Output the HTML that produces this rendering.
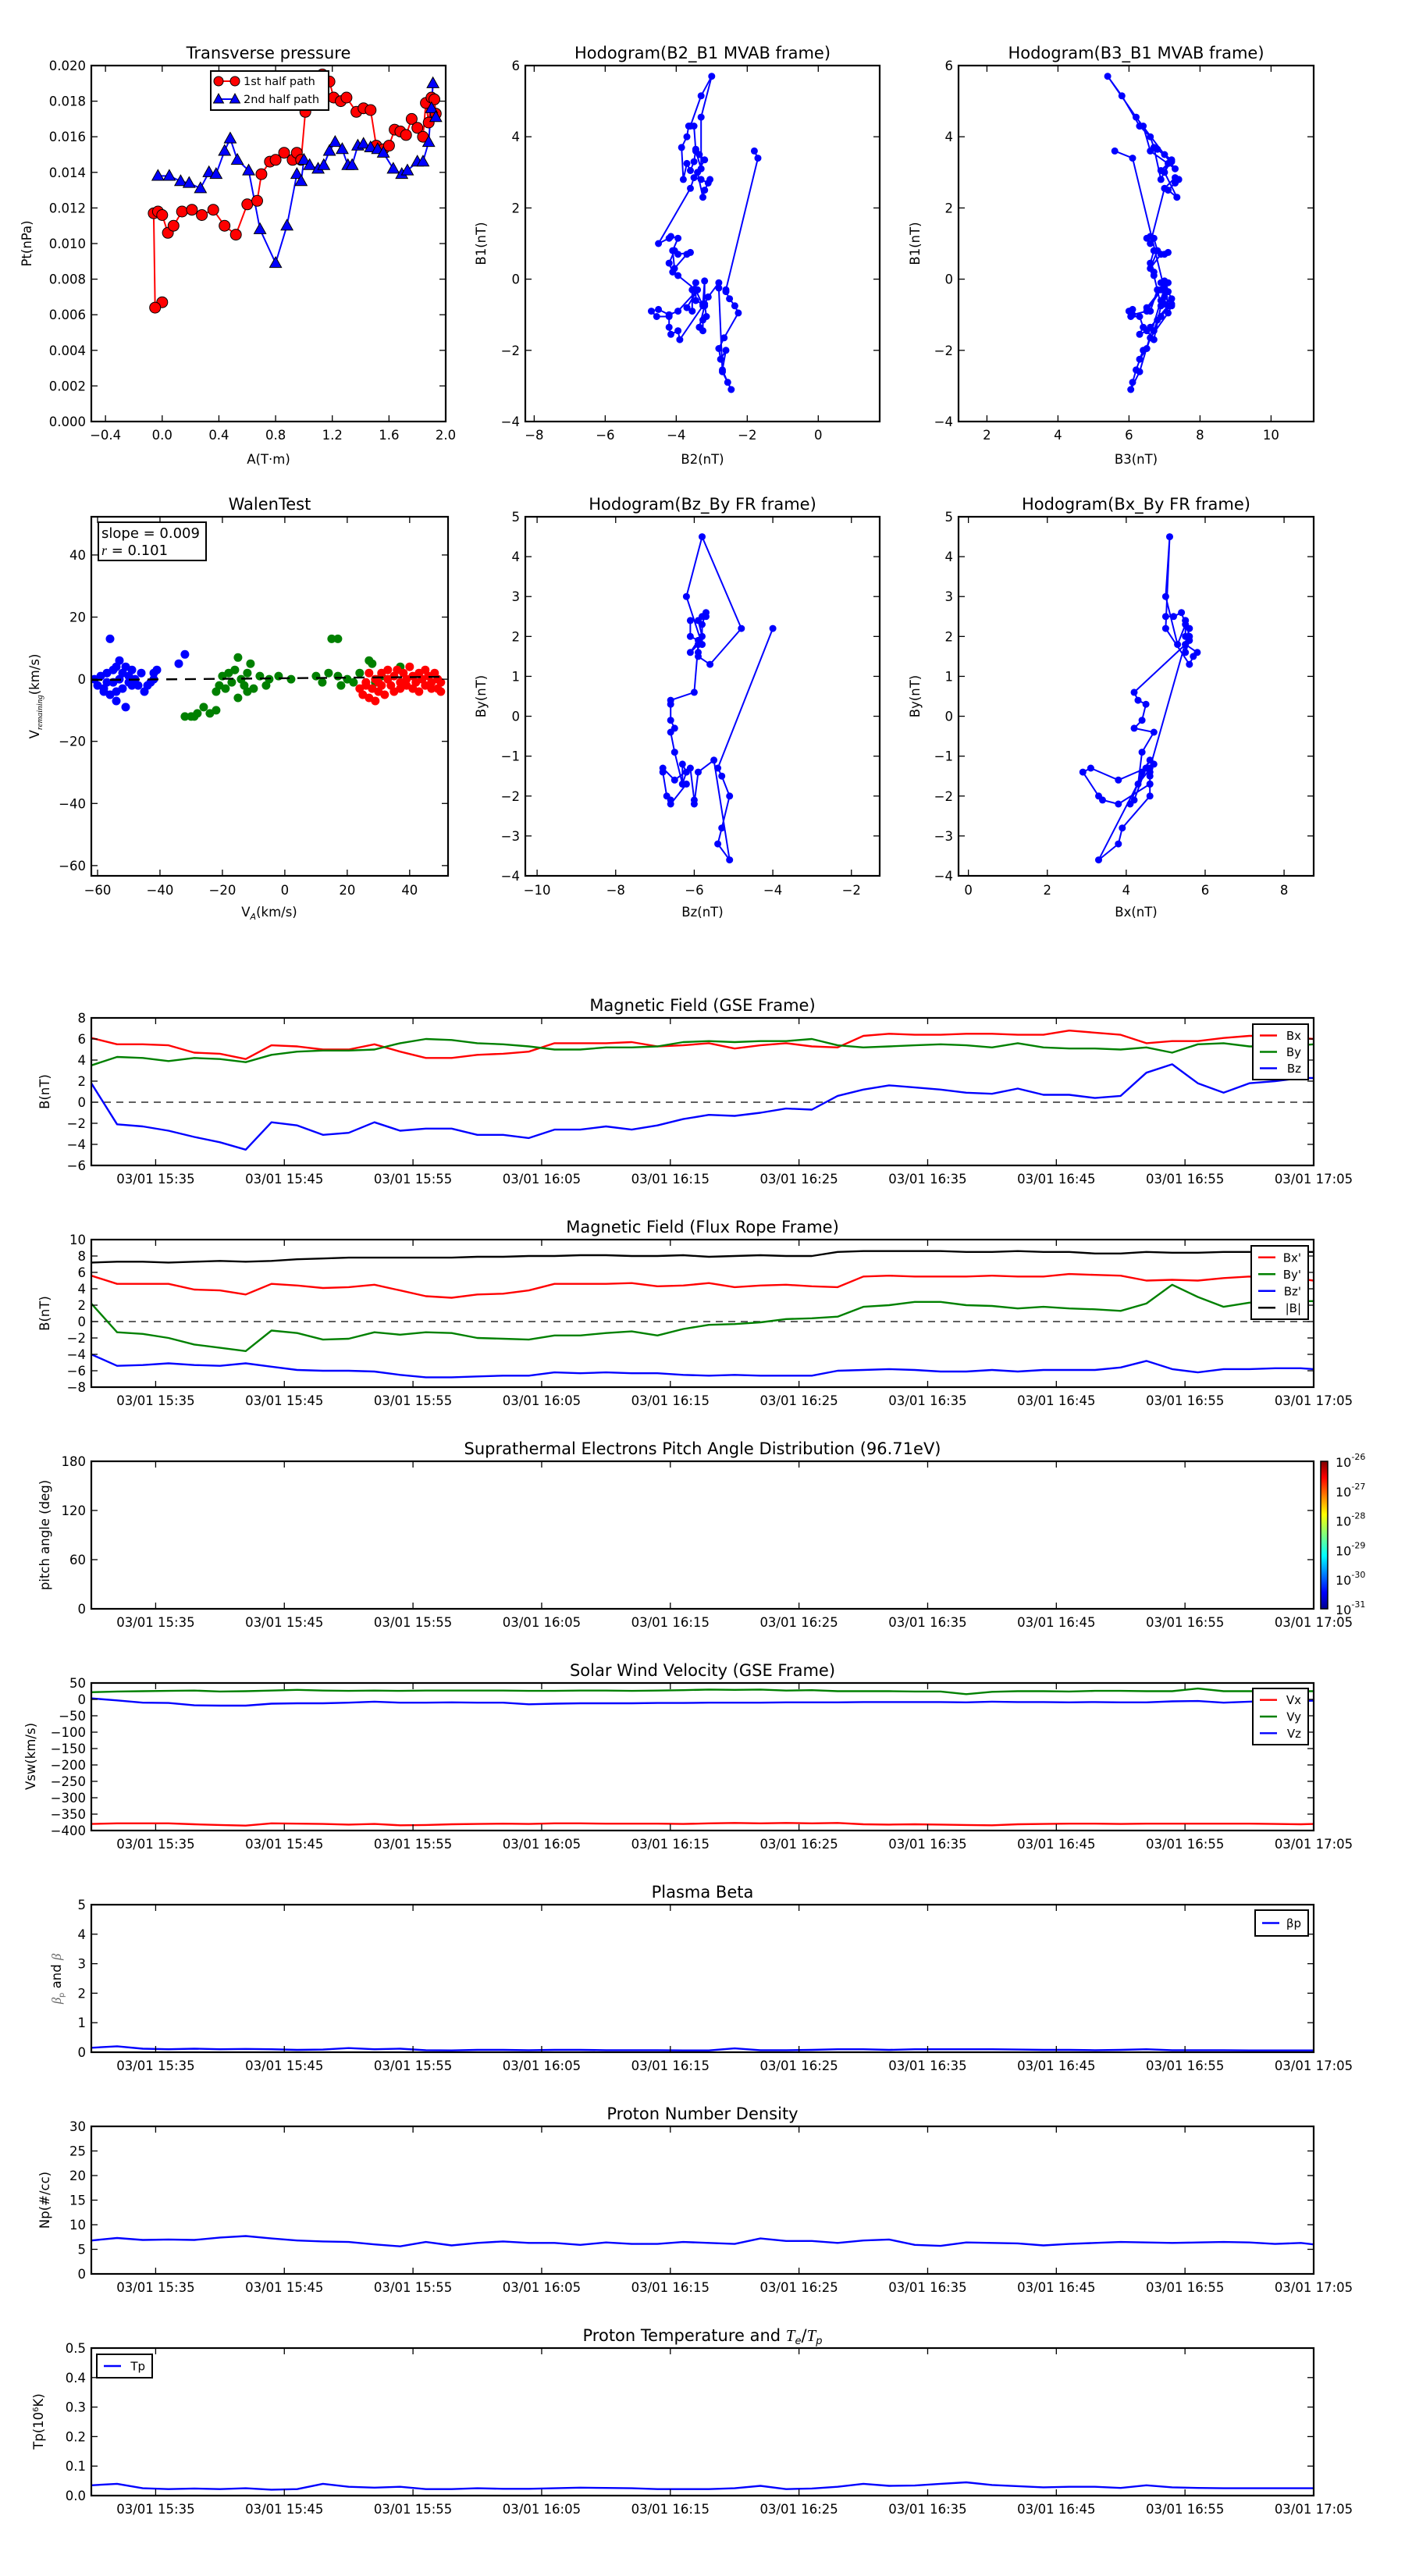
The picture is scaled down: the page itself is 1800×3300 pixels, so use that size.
<!DOCTYPE html>
<html><head><meta charset="utf-8"><title>Flux rope analysis</title>
<style>
html,body{margin:0;padding:0;background:#fff;}
svg{display:block;font-family:"DejaVu Sans","Liberation Sans",sans-serif;}
</style></head>
<body>
<svg id="root" xmlns="http://www.w3.org/2000/svg" width="1800" height="3300" viewBox="0 0 1800 3300">
<rect x="0" y="0" width="1800" height="3300" fill="#fff"/>
</svg>
<script>
// ---------- time-series data (minutes after 03/01 15:30) ----------
const tMin = [0,2,4,6,8,10,12,14,16,18,20,22,24,26,28,30,32,34,36,38,40,42,44,46,48,50,52,54,56,58,60,62,64,66,68,70,72,74,76,78,80,82,84,86,88,90,92,94,95];
const timeTickMin = [5,15,25,35,45,55,65,75,85,95];
const timeTickLabels = ["03/01 15:35","03/01 15:45","03/01 15:55","03/01 16:05","03/01 16:15","03/01 16:25","03/01 16:35","03/01 16:45","03/01 16:55","03/01 17:05"];

const gseBx = [6.1,5.5,5.5,5.4,4.7,4.6,4.1,5.4,5.3,5.0,5.0,5.5,4.8,4.2,4.2,4.5,4.6,4.8,5.6,5.6,5.6,5.7,5.3,5.4,5.6,5.1,5.4,5.6,5.3,5.2,6.3,6.5,6.4,6.4,6.5,6.5,6.4,6.4,6.8,6.6,6.4,5.6,5.8,5.8,6.1,6.3,6.3,6.1,6.0];
const gseBy = [3.5,4.3,4.2,3.9,4.2,4.1,3.8,4.5,4.8,4.9,4.9,5.0,5.6,6.0,5.9,5.6,5.5,5.3,5.0,5.0,5.2,5.2,5.3,5.7,5.8,5.7,5.8,5.8,6.0,5.4,5.2,5.3,5.4,5.5,5.4,5.2,5.6,5.2,5.1,5.1,5.0,5.2,4.7,5.5,5.6,5.3,5.3,5.4,5.5];
const gseBz = [1.8,-2.1,-2.3,-2.7,-3.3,-3.8,-4.5,-1.9,-2.2,-3.1,-2.9,-1.9,-2.7,-2.5,-2.5,-3.1,-3.1,-3.4,-2.6,-2.6,-2.3,-2.6,-2.2,-1.6,-1.2,-1.3,-1.0,-0.6,-0.7,0.6,1.2,1.6,1.4,1.2,0.9,0.8,1.3,0.7,0.7,0.4,0.6,2.8,3.6,1.8,0.9,1.8,2.0,2.3,2.3];

const frBx = [5.6,4.6,4.6,4.6,3.9,3.8,3.3,4.6,4.4,4.1,4.2,4.5,3.8,3.1,2.9,3.3,3.4,3.8,4.6,4.6,4.6,4.7,4.3,4.4,4.7,4.2,4.4,4.5,4.3,4.2,5.5,5.6,5.5,5.5,5.5,5.6,5.5,5.5,5.8,5.7,5.6,5.0,5.1,5.0,5.3,5.5,5.4,5.2,5.0];
const frBy = [2.2,-1.3,-1.5,-2.0,-2.8,-3.2,-3.6,-1.1,-1.4,-2.2,-2.1,-1.3,-1.6,-1.3,-1.4,-2.0,-2.1,-2.2,-1.7,-1.7,-1.4,-1.2,-1.7,-0.9,-0.4,-0.3,-0.1,0.3,0.4,0.6,1.8,2.0,2.4,2.4,2.0,1.9,1.6,1.8,1.6,1.5,1.3,2.2,4.5,3.0,1.8,2.3,2.6,2.5,2.5];
const frBz = [-4.0,-5.4,-5.3,-5.1,-5.3,-5.4,-5.1,-5.5,-5.9,-6.0,-6.0,-6.1,-6.5,-6.8,-6.8,-6.7,-6.6,-6.6,-6.2,-6.3,-6.2,-6.3,-6.3,-6.5,-6.6,-6.5,-6.6,-6.6,-6.6,-6.0,-5.9,-5.8,-5.9,-6.1,-6.1,-5.9,-6.1,-5.9,-5.9,-5.9,-5.6,-4.8,-5.8,-6.2,-5.8,-5.8,-5.7,-5.7,-5.8];
const frBt = [7.2,7.3,7.3,7.2,7.3,7.4,7.3,7.4,7.6,7.7,7.8,7.8,7.8,7.8,7.8,7.9,7.9,8.0,8.0,8.1,8.1,8.0,8.0,8.1,7.9,8.0,8.1,8.0,8.0,8.5,8.6,8.6,8.6,8.6,8.5,8.5,8.6,8.5,8.5,8.3,8.3,8.5,8.4,8.4,8.5,8.5,8.6,8.5,8.5];

const swVx = [-380,-378,-378,-378,-381,-383,-385,-378,-379,-380,-382,-380,-384,-383,-381,-380,-379,-380,-378,-378,-379,-379,-379,-380,-378,-377,-378,-377,-378,-377,-381,-382,-381,-382,-383,-384,-381,-380,-379,-379,-380,-379,-379,-379,-379,-379,-380,-381,-380];
const swVy = [22,24,25,26,27,24,25,27,29,27,26,27,26,27,27,27,27,26,26,27,27,26,27,28,30,29,30,27,28,25,25,25,24,24,16,23,25,25,24,26,26,25,25,33,25,25,25,25,25];
const swVz = [3,-3,-10,-11,-18,-19,-19,-13,-12,-12,-10,-7,-10,-10,-9,-10,-10,-15,-13,-12,-12,-12,-11,-11,-10,-10,-10,-9,-9,-9,-8,-8,-8,-8,-9,-7,-8,-8,-9,-8,-9,-9,-6,-5,-10,-7,-4,-5,-4];
const betaP = [0.15,0.2,0.12,0.1,0.12,0.1,0.11,0.1,0.08,0.09,0.14,0.1,0.12,0.07,0.06,0.08,0.08,0.07,0.08,0.08,0.07,0.07,0.07,0.06,0.06,0.13,0.07,0.07,0.08,0.1,0.1,0.08,0.1,0.1,0.1,0.1,0.09,0.08,0.08,0.07,0.08,0.1,0.07,0.07,0.07,0.06,0.06,0.06,0.06];
const densNp = [6.8,7.3,6.9,7.0,6.9,7.4,7.7,7.2,6.8,6.6,6.5,6.0,5.6,6.5,5.8,6.3,6.6,6.3,6.3,5.9,6.4,6.1,6.1,6.5,6.3,6.1,7.2,6.7,6.7,6.3,6.8,7.0,5.9,5.7,6.4,6.3,6.2,5.8,6.1,6.3,6.5,6.4,6.3,6.4,6.5,6.4,6.1,6.3,6.0];
const tempTp = [0.035,0.04,0.025,0.022,0.024,0.022,0.025,0.02,0.022,0.04,0.03,0.027,0.03,0.022,0.022,0.025,0.023,0.023,0.025,0.027,0.026,0.025,0.022,0.022,0.022,0.025,0.033,0.022,0.024,0.03,0.04,0.033,0.034,0.04,0.045,0.036,0.032,0.028,0.03,0.03,0.026,0.035,0.028,0.026,0.025,0.025,0.025,0.025,0.025];

// ---------- transverse pressure ----------
const ptA1 = [0.0,-0.05,-0.06,-0.03,0.0,0.04,0.08,0.14,0.21,0.28,0.36,0.44,0.52,0.6,0.67,0.7,0.76,0.8,0.86,0.92,0.95,0.98,1.01,1.1,1.13,1.18,1.21,1.26,1.3,1.37,1.42,1.47,1.51,1.56,1.6,1.64,1.68,1.72,1.76,1.8,1.84,1.86,1.88,1.9,1.92,1.93];
const ptP1 = [0.0067,0.0064,0.0117,0.0118,0.0116,0.0106,0.0110,0.0118,0.0119,0.0116,0.0119,0.0110,0.0105,0.0122,0.0124,0.0139,0.0146,0.0147,0.0151,0.0147,0.0151,0.0147,0.0174,0.0193,0.0195,0.0191,0.0182,0.0180,0.0182,0.0174,0.0176,0.0175,0.0155,0.0153,0.0155,0.0164,0.0163,0.0161,0.0170,0.0165,0.0160,0.0179,0.0168,0.0182,0.0181,0.0173];
const ptA2 = [-0.03,0.05,0.13,0.19,0.27,0.33,0.38,0.44,0.48,0.53,0.61,0.69,0.8,0.88,0.95,0.98,1.0,1.04,1.1,1.14,1.18,1.22,1.27,1.31,1.34,1.38,1.42,1.47,1.52,1.56,1.63,1.69,1.73,1.8,1.84,1.88,1.91,1.9,1.93];
const ptP2 = [0.0138,0.0138,0.0135,0.0134,0.0131,0.0140,0.0139,0.0152,0.0159,0.0147,0.0141,0.0108,0.0089,0.0110,0.0139,0.0135,0.0147,0.0144,0.0142,0.0144,0.0152,0.0157,0.0153,0.0144,0.0144,0.0155,0.0156,0.0154,0.0153,0.0151,0.0142,0.0139,0.0141,0.0146,0.0146,0.0157,0.0190,0.0176,0.0171];

// ---------- MVAB hodogram ----------
const mvB1 = [3.6,3.4,-0.3,-0.35,-0.55,-0.75,-0.95,-1.65,-1.95,-2.25,-2.0,-2.55,-2.9,-3.1,-2.6,-0.25,-0.1,-0.5,-0.7,-1.05,-1.15,-1.45,-1.35,-0.75,-0.05,-0.7,-0.6,-0.1,-0.3,-0.9,-0.8,-0.3,-0.9,-1.0,-0.85,-0.9,-1.05,-1.05,-1.35,-1.55,-1.45,-1.7,-0.75,-0.3,0.1,0.2,0.45,0.8,0.7,0.75,0.7,0.3,0.8,1.15,1.2,1.15,1.0,2.55,2.85,2.8,2.7,2.8,2.5,2.3,3.0,3.35,3.5,3.65,3.3,3.05,3.25,2.8,3.7,4.0,4.3,4.3,3.6,3.1,4.55,5.7,5.15,4.3];
const mvB2 = [-1.8,-1.7,-2.6,-2.6,-2.5,-2.35,-2.25,-2.65,-2.8,-2.75,-2.6,-2.7,-2.55,-2.45,-2.7,-2.8,-2.8,-3.1,-3.2,-3.15,-3.25,-3.25,-3.35,-3.2,-3.2,-3.25,-3.45,-3.45,-3.55,-3.55,-3.7,-3.4,-3.95,-4.2,-4.5,-4.7,-4.55,-4.2,-4.2,-4.15,-3.95,-3.9,-3.25,-3.45,-3.95,-4.1,-4.2,-4.05,-3.95,-3.6,-3.7,-4.05,-4.1,-3.95,-4.15,-4.2,-4.5,-3.6,-3.5,-3.3,-3.1,-3.05,-3.2,-3.25,-3.4,-3.2,-3.35,-3.45,-3.5,-3.6,-3.7,-3.8,-3.85,-3.7,-3.65,-3.5,-3.45,-3.3,-3.3,-3.0,-3.3,-3.6];
const mvB3 = [5.6,6.1,7.0,7.1,7.2,7.2,7.1,6.6,6.5,6.3,6.4,6.2,6.1,6.05,6.3,7.0,6.9,7.0,7.2,6.9,6.8,6.7,6.6,7.1,7.0,7.0,6.9,7.1,6.8,6.6,6.5,6.9,6.5,6.1,6.1,6.0,6.05,6.3,6.4,6.3,6.5,6.7,6.9,6.8,6.7,6.7,6.6,6.7,7.0,7.1,6.9,6.6,6.8,6.7,6.6,6.5,6.6,7.0,7.3,7.4,7.3,7.4,7.1,7.35,7.0,7.2,7.0,6.8,7.2,6.9,7.1,6.9,6.7,6.6,6.3,6.4,6.6,7.3,6.2,5.4,5.8,6.3];

// ---------- Walen test ----------
const walenBlueX = [-61,-60,-59,-58,-57,-56,-56,-55,-55,-54,-54,-53,-53,-52,-52,-51,-51,-50,-50,-49,-48,-47,-46,-45,-44,-43,-42,-42,-34,-32,-58,-57,-54,-49,-41];
const walenBlueY = [0,-2,1,-3,2,-5,13,3,-1,4,-7,0,6,2,-3,-9,4,1,-1,3,0,-2,2,-4,-2,-1,0,2,5,8,-4,-1,-4,-2,3];
const walenGreenX = [-32,-30,-28,-26,-24,-22,-22,-21,-20,-19,-18,-17,-16,-15,-15,-14,-13,-12,-12,-11,-10,-8,-6,-5,-2,2,10,12,14,15,17,17,18,20,22,24,27,28,29,31,37,-29];
const walenGreenY = [-12,-12,-11,-9,-11,-10,-4,-2,1,-3,2,-1,3,-6,7,0,-2,2,-4,5,-3,1,-2,0,1,0,1,-1,2,13,13,1,-2,0,-1,2,6,5,-1,1,4,-12];
const walenRedX = [24,25,26,27,27,28,29,29,30,31,31,32,33,33,34,35,35,36,37,37,38,39,39,40,41,41,42,43,43,44,45,45,46,47,47,48,49,49,50,50,26,30];
const walenRedY = [-3,-5,-1,-6,2,-3,0,-7,-4,2,-2,-5,3,0,-2,1,-4,3,-1,-3,2,0,-2,4,1,-3,-1,2,-4,0,-2,3,1,-1,-3,2,0,-3,-1,-4,-2,-1];
const walenSlope = 0.009, walenIntercept = 0.3;

const SVGNS = "http://www.w3.org/2000/svg";
const root = document.getElementById('root');
function mk(tag, parent){ const e = document.createElementNS(SVGNS, tag); (parent||root).appendChild(e); return e; }
function txt(parent, x, y, s, size, anchor, extra){
  const t = mk('text', parent); t.setAttribute('x', x); t.setAttribute('y', y);
  t.setAttribute('font-size', size); t.setAttribute('text-anchor', anchor||'middle'); t.setAttribute('fill', '#000');
  if (extra) t.setAttribute('font-style', extra);
  t.textContent = s; return t;
}
function fmtNum(v){ return String(v).replace('-', '\u2212'); }

function makeAxes(cfg){
  const g = mk('g'); 
  
  const sx = v => cfg.x0 + (v - cfg.xmin) / (cfg.xmax - cfg.xmin) * (cfg.x1 - cfg.x0);
  const sy = v => cfg.y1 - (v - cfg.ymin) / (cfg.ymax - cfg.ymin) * (cfg.y1 - cfg.y0);
  const clip = mk('clipPath', g); clip.setAttribute('id', cfg.name + '-clip');
  const cr = mk('rect', clip); cr.setAttribute('x', cfg.x0); cr.setAttribute('y', cfg.y0);
  cr.setAttribute('width', cfg.x1 - cfg.x0); cr.setAttribute('height', cfg.y1 - cfg.y0);
  const plot = mk('g', g); plot.setAttribute('clip-path', 'url(#' + cfg.name + '-clip)');
  
  
  const ticks = mk('g', g);
  
  
  const fs = cfg.fs || 16.5;
  cfg.xticks.forEach((v, i) => {
    const x = sx(v);
    [[cfg.y1, cfg.y1 - 8], [cfg.y0, cfg.y0 + 8]].forEach(p => { const l = mk('line', ticks); l.setAttribute('x1', x); l.setAttribute('x2', x); l.setAttribute('y1', p[0]); l.setAttribute('y2', p[1]); l.setAttribute('stroke', '#000'); l.setAttribute('stroke-width', 1.3); });
    const t = txt(ticks, x, cfg.y1 + (cfg.xlabOff || 23), cfg.xlabels ? cfg.xlabels[i] : fmtNum(v), fs);
    
    
  });
  cfg.yticks.forEach((v, i) => {
    const y = sy(v);
    [[cfg.x0, cfg.x0 + 8], [cfg.x1, cfg.x1 - 8]].forEach(p => { const l = mk('line', ticks); l.setAttribute('y1', y); l.setAttribute('y2', y); l.setAttribute('x1', p[0]); l.setAttribute('x2', p[1]); l.setAttribute('stroke', '#000'); l.setAttribute('stroke-width', 1.3); });
    const t = txt(ticks, cfg.x0 - 7, y + 6, cfg.ylabels ? cfg.ylabels[i] : fmtNum(v), fs, 'end');
    
    
  });
  if (cfg.title) { const t = txt(g, (cfg.x0 + cfg.x1) / 2, cfg.y0 - 9, cfg.title, 21);
    
     }
  if (cfg.ylab) { const t = txt(g, 0, 0, cfg.ylab, 16.5); t.setAttribute('transform', 'translate(' + cfg.ylabX + ',' + ((cfg.y0 + cfg.y1) / 2) + ') rotate(-90)');
    
     cfg.ylabEl = t; }
  if (cfg.xlab) { const t = txt(g, (cfg.x0 + cfg.x1) / 2, cfg.xlabY, cfg.xlab, 16.5);
    
     cfg.xlabEl = t; }
  const fr = mk('rect', g); fr.setAttribute('x', cfg.x0); fr.setAttribute('y', cfg.y0);
  fr.setAttribute('width', cfg.x1 - cfg.x0); fr.setAttribute('height', cfg.y1 - cfg.y0);
  fr.setAttribute('fill', 'none'); fr.setAttribute('stroke', '#000'); fr.setAttribute('stroke-width', 2.2);
  
  
  return { g, plot, sx, sy, cfg };
}
function polyline(ax, xs, ys, color, w, name){
  const n = Math.min(xs.length, ys.length); let d = '';
  for (let i = 0; i < n; i++) d += (i ? 'L' : 'M') + ax.sx(xs[i]).toFixed(1) + ' ' + ax.sy(ys[i]).toFixed(1);
  const p = mk('path', ax.plot); p.setAttribute('d', d); p.setAttribute('fill', 'none');
  p.setAttribute('stroke', color); p.setAttribute('stroke-width', w || 2.4); p.setAttribute('stroke-linejoin', 'round');
  
  
  return p;
}
function dots(ax, xs, ys, color, r, name, stroke){
  const n = Math.min(xs.length, ys.length);
  const gg = mk('g', ax.plot);
  
  
  for (let i = 0; i < n; i++) { const c = mk('circle', gg); c.setAttribute('cx', ax.sx(xs[i]).toFixed(1)); c.setAttribute('cy', ax.sy(ys[i]).toFixed(1)); c.setAttribute('r', r); c.setAttribute('fill', color); if (stroke) { c.setAttribute('stroke', '#000'); c.setAttribute('stroke-width', 1); }
    
     }
}
function tris(ax, xs, ys, color, s, name){
  const n = Math.min(xs.length, ys.length);
  const gg = mk('g', ax.plot);
  
  
  for (let i = 0; i < n; i++) { const x = ax.sx(xs[i]), y = ax.sy(ys[i]); const p = mk('polygon', gg);
    p.setAttribute('points', x + ',' + (y - s) + ' ' + (x - s * 0.95) + ',' + (y + s * 0.7) + ' ' + (x + s * 0.95) + ',' + (y + s * 0.7));
    p.setAttribute('fill', color); p.setAttribute('stroke', '#000'); p.setAttribute('stroke-width', 1);
    
     }
}
function hline(ax, v, name){
  const l = mk('line', ax.plot); l.setAttribute('x1', ax.cfg.x0); l.setAttribute('x2', ax.cfg.x1);
  l.setAttribute('y1', ax.sy(v)); l.setAttribute('y2', ax.sy(v)); l.setAttribute('stroke', '#000'); l.setAttribute('stroke-width', 1.2); l.setAttribute('stroke-dasharray', '9,7');
  
  
}
function legend(ax, x, y, w, h, entries, name, lineLen){
  const g = mk('g', ax.g);
  
  
  const r = mk('rect', g); r.setAttribute('x', x); r.setAttribute('y', y); r.setAttribute('width', w); r.setAttribute('height', h);
  r.setAttribute('fill', '#fff'); r.setAttribute('stroke', '#000'); r.setAttribute('stroke-width', 2);
  const step = (h - 8) / entries.length;
  entries.forEach((e, i) => {
    const cy = y + 4 + step * (i + 0.5);
    const l = mk('line', g); l.setAttribute('x1', x + 9); l.setAttribute('x2', x + 9 + (lineLen || 22)); l.setAttribute('y1', cy); l.setAttribute('y2', cy);
    l.setAttribute('stroke', e[1]); l.setAttribute('stroke-width', 2.4);
    const t = txt(g, x + w - 9, cy + 5.5, e[0], 15, 'end');
    
    
  });
  return g;
}

// ================= TOP ROW =================
const ptAx = makeAxes({name:'transverse-pressure-chart', x0:117, x1:571, y0:84, y1:540, xmin:-0.5, xmax:2.0, ymin:0, ymax:0.02,
  xticks:[-0.4,0,0.4,0.8,1.2,1.6,2.0], xlabels:['\u22120.4','0.0','0.4','0.8','1.2','1.6','2.0'],
  yticks:[0,0.002,0.004,0.006,0.008,0.01,0.012,0.014,0.016,0.018,0.02],
  ylabels:['0.000','0.002','0.004','0.006','0.008','0.010','0.012','0.014','0.016','0.018','0.020'],
  title:'Transverse pressure', ylab:'Pt(nPa)', ylabX:40, xlab:'A(T\u00b7m)', xlabY:594});
polyline(ptAx, ptA1, ptP1, '#f00', 2, 'first-half-line');
polyline(ptAx, ptA2, ptP2, '#00f', 2, 'second-half-line');
dots(ptAx, ptA1, ptP1, '#f00', 7, 'first-half-markers', true);
tris(ptAx, ptA2, ptP2, '#00f', 8, 'second-half-markers');
(function(){
  const g = mk('g', ptAx.g);
  
  
  const r = mk('rect', g); r.setAttribute('x', 270); r.setAttribute('y', 91); r.setAttribute('width', 151); r.setAttribute('height', 50);
  r.setAttribute('fill', '#fff'); r.setAttribute('stroke', '#000'); r.setAttribute('stroke-width', 2);
  [[104, '#f00', '1st half path', 'c'], [127, '#00f', '2nd half path', 't']].forEach(e => {
    const l = mk('line', g); l.setAttribute('x1', 280); l.setAttribute('x2', 301); l.setAttribute('y1', e[0]); l.setAttribute('y2', e[0]); l.setAttribute('stroke', e[1]); l.setAttribute('stroke-width', 2);
    [280, 301].forEach(x => {
      if (e[3] === 'c') { const c = mk('circle', g); c.setAttribute('cx', x); c.setAttribute('cy', e[0]); c.setAttribute('r', 6); c.setAttribute('fill', e[1]); c.setAttribute('stroke', '#000'); }
      else { const p = mk('polygon', g); p.setAttribute('points', x + ',' + (e[0] - 7) + ' ' + (x - 6.5) + ',' + (e[0] + 5) + ' ' + (x + 6.5) + ',' + (e[0] + 5)); p.setAttribute('fill', e[1]); p.setAttribute('stroke', '#000'); }
    });
    const t = txt(g, 312, e[0] + 5, e[2], 14.5, 'start');
    
    
  });
})();

const h1 = makeAxes({name:'hodogram-b2-b1', x0:673, x1:1127, y0:84, y1:540, xmin:-8.25, xmax:1.73, ymin:-4, ymax:6,
  xticks:[-8,-6,-4,-2,0], yticks:[-4,-2,0,2,4,6], title:'Hodogram(B2_B1 MVAB frame)', ylab:'B1(nT)', ylabX:622, xlab:'B2(nT)', xlabY:594});
polyline(h1, mvB2, mvB1, '#00f', 2, 'b2-b1-path');
dots(h1, mvB2, mvB1, '#00f', 4.5, 'b2-b1-points');

const h2 = makeAxes({name:'hodogram-b3-b1', x0:1228, x1:1683, y0:84, y1:540, xmin:1.2, xmax:11.2, ymin:-4, ymax:6,
  xticks:[2,4,6,8,10], yticks:[-4,-2,0,2,4,6], title:'Hodogram(B3_B1 MVAB frame)', ylab:'B1(nT)', ylabX:1178, xlab:'B3(nT)', xlabY:594});
polyline(h2, mvB3, mvB1, '#00f', 2, 'b3-b1-path');
dots(h2, mvB3, mvB1, '#00f', 4.5, 'b3-b1-points');

// ================= SECOND ROW =================
const wAx = makeAxes({name:'walen-test-chart', x0:117, x1:574, y0:662, y1:1122, xmin:-62, xmax:52.3, ymin:-63.3, ymax:52.3,
  xticks:[-60,-40,-20,0,20,40], yticks:[-60,-40,-20,0,20,40], title:'WalenTest', xlab:'', xlabY:1174, xlabOff:24});
dots(wAx, walenBlueX, walenBlueY, '#00f', 5.5, 'walen-blue-points');
dots(wAx, walenGreenX, walenGreenY, '#008000', 5.5, 'walen-green-points');
dots(wAx, walenRedX, walenRedY, '#f00', 5.5, 'walen-red-points');
(function(){
  const fx = [-62, 52.3];
  const fy = fx.map(v => walenSlope * v + walenIntercept);
  const p = polyline(wAx, fx, fy, '#000', 2.4, 'walen-fit-line'); p.setAttribute('stroke-dasharray', '14,10');
  const g = mk('g', wAx.g);
  
  
  const r = mk('rect', g); r.setAttribute('x', 126); r.setAttribute('y', 669); r.setAttribute('width', 138); r.setAttribute('height', 49);
  r.setAttribute('fill', '#fff'); r.setAttribute('stroke', '#000'); r.setAttribute('stroke-width', 2);
  txt(g, 130, 689, 'slope = 0.009', 18, 'start');
  const t2 = txt(g, 130, 711, '', 18, 'start');
  const ts = mk('tspan', t2); ts.setAttribute('font-style', 'italic'); ts.setAttribute('font-family', 'Liberation Serif, serif'); ts.textContent = 'r';
  const ts2 = mk('tspan', t2); ts2.textContent = ' = 0.101';
  const xl = txt(wAx.g, 345, 1174, 'V', 16.5);
  const sub = mk('tspan', xl); sub.setAttribute('font-size', 11); sub.setAttribute('dy', 4); sub.setAttribute('font-style', 'italic'); sub.textContent = 'A';
  const s2 = mk('tspan', xl); s2.setAttribute('dy', -4); s2.textContent = '(km/s)';
  
  
  const yl = txt(wAx.g, 0, 0, 'V', 16.5); yl.setAttribute('transform', 'translate(50,892) rotate(-90)');
  const ysub = mk('tspan', yl); ysub.setAttribute('font-size', 11); ysub.setAttribute('dy', 4); ysub.setAttribute('font-style', 'italic'); ysub.setAttribute('font-family', 'Liberation Serif, serif'); ysub.textContent = 'remaining';
  const ys2 = mk('tspan', yl); ys2.setAttribute('dy', -4); ys2.textContent = '(km/s)';
  
  
})();

const h3 = makeAxes({name:'hodogram-bz-by', x0:673, x1:1127, y0:662, y1:1122, xmin:-10.3, xmax:-1.28, ymin:-4, ymax:5,
  xticks:[-10,-8,-6,-4,-2], yticks:[-4,-3,-2,-1,0,1,2,3,4,5], title:'Hodogram(Bz_By FR frame)', ylab:'By(nT)', ylabX:622, xlab:'Bz(nT)', xlabY:1174, xlabOff:24});
polyline(h3, frBz, frBy, '#00f', 2, 'bz-by-path');
dots(h3, frBz, frBy, '#00f', 4.5, 'bz-by-points');

const h4 = makeAxes({name:'hodogram-bx-by', x0:1228, x1:1683, y0:662, y1:1122, xmin:-0.25, xmax:8.75, ymin:-4, ymax:5,
  xticks:[0,2,4,6,8], yticks:[-4,-3,-2,-1,0,1,2,3,4,5], title:'Hodogram(Bx_By FR frame)', ylab:'By(nT)', ylabX:1178, xlab:'Bx(nT)', xlabY:1174, xlabOff:24});
polyline(h4, frBx, frBy, '#00f', 2, 'bx-by-path');
dots(h4, frBx, frBy, '#00f', 4.5, 'bx-by-points');

// ================= TIME SERIES =================
function timeAxes(name, top, ymin, ymax, yticks, ylabels, title, ylab){
  return makeAxes({name, x0:117, x1:1683, y0:top, y1:top + 189, xmin:0, xmax:95, ymin, ymax,
    xticks:timeTickMin, xlabels:timeTickLabels, yticks, ylabels, title, ylab, ylabX:63});
}
const gse = timeAxes('magnetic-field-gse-chart', 1304, -6, 8, [-6,-4,-2,0,2,4,6,8], null, 'Magnetic Field (GSE Frame)', 'B(nT)');
hline(gse, 0, 'gse-zero-line');
polyline(gse, tMin, gseBx, '#f00', 2.4, 'series-bx');
polyline(gse, tMin, gseBy, '#008000', 2.4, 'series-by');
polyline(gse, tMin, gseBz, '#00f', 2.4, 'series-bz');
legend(gse, 1605, 1312, 71, 71, [['Bx','#f00'],['By','#008000'],['Bz','#00f']], 'gse-legend');

const fr = timeAxes('magnetic-field-fr-chart', 1588, -8, 10, [-8,-6,-4,-2,0,2,4,6,8,10], null, 'Magnetic Field (Flux Rope Frame)', 'B(nT)');
hline(fr, 0, 'fr-zero-line');
polyline(fr, tMin, frBt, '#000', 2.4, 'series-btotal');
polyline(fr, tMin, frBx, '#f00', 2.4, 'series-bx-prime');
polyline(fr, tMin, frBy, '#008000', 2.4, 'series-by-prime');
polyline(fr, tMin, frBz, '#00f', 2.4, 'series-bz-prime');
legend(fr, 1603, 1596, 73, 94, [["Bx'",'#f00'],["By'",'#008000'],["Bz'",'#00f'],['|B|','#000']], 'fr-legend');

const pad = timeAxes('pitch-angle-chart', 1872, 0, 180, [0,60,120,180], null, 'Suprathermal Electrons Pitch Angle Distribution (96.71eV)', 'pitch angle (deg)');
(function(){
  const defs = mk('defs'); const lg = mk('linearGradient', defs); lg.setAttribute('id', 'jet'); lg.setAttribute('x1', 0); lg.setAttribute('y1', 1); lg.setAttribute('x2', 0); lg.setAttribute('y2', 0);
  [['0','#00008f'],['0.11','#0000ff'],['0.36','#00ffff'],['0.5','#7fff7f'],['0.64','#ffff00'],['0.89','#ff0000'],['1','#7f0000']].forEach(s => { const st = mk('stop', lg); st.setAttribute('offset', s[0]); st.setAttribute('stop-color', s[1]); });
  const g = mk('g');
  
  
  const r = mk('rect', g); r.setAttribute('x', 1692); r.setAttribute('y', 1872); r.setAttribute('width', 9); r.setAttribute('height', 189);
  r.setAttribute('fill', 'url(#jet)'); r.setAttribute('stroke', '#000'); r.setAttribute('stroke-width', 1.5);
  const exps = ['-31','-30','-29','-28','-27','-26'];
  exps.forEach((e, i) => {
    const y = 2061 - i * 189 / 5;
    const t = txt(g, 1711, y + 7, '10', 16, 'start');
    const sp = mk('tspan', t); sp.setAttribute('font-size', 11); sp.setAttribute('dy', -9); sp.textContent = e;
    
    
  });
})();

const sw = timeAxes('solar-wind-velocity-chart', 2156, -400, 50, [-400,-350,-300,-250,-200,-150,-100,-50,0,50], null, 'Solar Wind Velocity (GSE Frame)', 'Vsw(km/s)');
sw.cfg.ylabEl.setAttribute('transform', 'translate(45,2250) rotate(-90)');
polyline(sw, tMin, swVx, '#f00', 2.4, 'series-vx');
polyline(sw, tMin, swVy, '#008000', 2.4, 'series-vy');
polyline(sw, tMin, swVz, '#00f', 2.4, 'series-vz');
legend(sw, 1605, 2163, 71, 72, [['Vx','#f00'],['Vy','#008000'],['Vz','#00f']], 'sw-legend');

const beta = timeAxes('plasma-beta-chart', 2440, 0, 5, [0,1,2,3,4,5], null, 'Plasma Beta', '');
polyline(beta, tMin, betaP, '#00f', 2.4, 'series-beta-p');
(function(){
  const yl = txt(beta.g, 0, 0, '', 16.5); yl.setAttribute('transform', 'translate(78,2535) rotate(-90)');
  const a = mk('tspan', yl); a.setAttribute('font-style', 'italic'); a.setAttribute('fill', '#666'); a.setAttribute('font-family', 'Liberation Serif, serif'); a.textContent = '\u03b2';
  const b = mk('tspan', yl); b.setAttribute('font-size', 10); b.setAttribute('dy', 4); b.setAttribute('fill', '#666'); b.textContent = 'p';
  const c = mk('tspan', yl); c.setAttribute('dy', -4); c.textContent = ' and ';
  const d = mk('tspan', yl); d.setAttribute('font-style', 'italic'); d.setAttribute('fill', '#666'); d.setAttribute('font-family', 'Liberation Serif, serif'); d.textContent = '\u03b2';
  
  
  legend(beta, 1608, 2447, 68, 33, [['\u03b2p','#00f']], 'beta-legend');
})();

const np = timeAxes('proton-density-chart', 2724, 0, 30, [0,5,10,15,20,25,30], null, 'Proton Number Density', 'Np(#/cc)');
polyline(np, tMin, densNp, '#00f', 2.4, 'series-np');

const tp = timeAxes('proton-temperature-chart', 3008, 0, 0.5, [0,0.1,0.2,0.3,0.4,0.5], ['0.0','0.1','0.2','0.3','0.4','0.5'], '', '');
polyline(tp, tMin, tempTp, '#00f', 2.4, 'series-tp');
(function(){
  const t = txt(tp.g, 900, 2999, 'Proton Temperature and ', 21);
  const a = mk('tspan', t); a.setAttribute('font-style', 'italic'); a.setAttribute('font-family', 'Liberation Serif, serif'); a.textContent = 'T';
  const b = mk('tspan', t); b.setAttribute('font-size', 13); b.setAttribute('dy', 4); b.setAttribute('font-style', 'italic'); b.textContent = 'e';
  const c = mk('tspan', t); c.setAttribute('dy', -4); c.textContent = '/';
  const d = mk('tspan', t); d.setAttribute('font-style', 'italic'); d.setAttribute('font-family', 'Liberation Serif, serif'); d.textContent = 'T';
  const e = mk('tspan', t); e.setAttribute('font-size', 13); e.setAttribute('dy', 4); e.setAttribute('font-style', 'italic'); e.textContent = 'p';
  
  
  const yl = txt(tp.g, 0, 0, 'Tp(10', 16.5); yl.setAttribute('transform', 'translate(55,3102) rotate(-90)');
  const s = mk('tspan', yl); s.setAttribute('font-size', 10); s.setAttribute('dy', -6); s.textContent = '6';
  const s2 = mk('tspan', yl); s2.setAttribute('dy', 6); s2.textContent = 'K)';
  
  
  legend(tp, 124, 3016, 71, 30, [['Tp','#00f']], 'tp-legend');
})();
</script>
</body></html>
